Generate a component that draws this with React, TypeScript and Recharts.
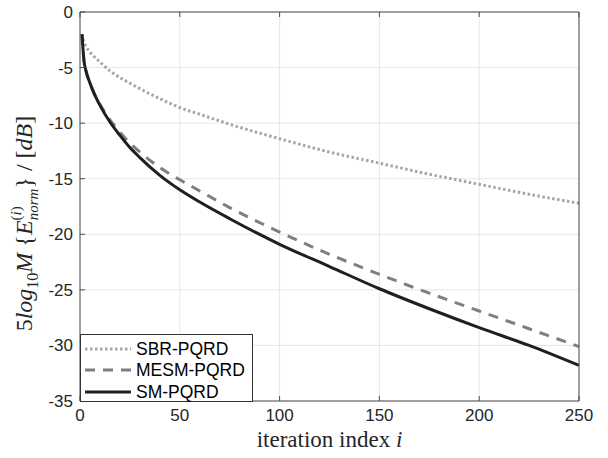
import React from 'react'
import {
    LineChart,
    Line,
    XAxis,
    YAxis,
    CartesianGrid,
    Legend
} from 'recharts'

// values
const iterations = [1, 2, 3, 5, 7, 10, 15, 20, 25, 30, 40, 50, 60, 75, 100, 125, 150, 175, 200, 225, 250]
const sbrPqrd = [-2.0, -2.7, -3.1, -3.6, -4.0, -4.5, -5.3, -5.9, -6.4, -6.9, -7.8, -8.6, -9.2, -10.1, -11.4, -12.6, -13.6, -14.6, -15.5, -16.4, -17.2]
const mesmPqrd = [-2.0, -4.4, -5.3, -6.4, -7.3, -8.3, -9.7, -10.8, -11.8, -12.6, -14.0, -15.1, -16.1, -17.6, -19.8, -21.8, -23.6, -25.3, -26.9, -28.5, -30.1]
const smPqrd = [-2.0, -4.4, -5.3, -6.4, -7.3, -8.4, -9.9, -11.1, -12.2, -13.1, -14.7, -16.0, -17.1, -18.6, -20.9, -22.9, -24.9, -26.7, -28.4, -30.0, -31.8]

const xTicks = [0, 50, 100, 150, 200, 250]
const yTicks = [0, -5, -10, -15, -20, -25, -30, -35]

const legendItems = [
    { name: 'SBR-PQRD', color: '#a6a6a6', dash: '2.5 2.5' },
    { name: 'MESM-PQRD', color: '#7f7f7f', dash: '10 8' },
    { name: 'SM-PQRD', color: '#1f1f1f', dash: undefined }
]

const data = iterations.map((it, i) => ({
    it,
    sbr: sbrPqrd[i],
    mesm: mesmPqrd[i],
    sm: smPqrd[i]
}))

const AXIS = '#4d4d4d'
const TXT = '#262626'
const SANS = '"Liberation Sans", Arial, sans-serif'
const SERIF = '"Liberation Serif", "Times New Roman", serif'

const BottomTick = ({ x, y, payload }: any) => (
    <g>
        <line x1={x} y1={y} x2={x} y2={y - 5} stroke={AXIS} />
        <text x={x} y={y + 20} textAnchor="middle" fill={TXT} fontSize={17} fontFamily={SANS}>{payload.value}</text>
    </g>
)

const LeftTick = ({ x, y, payload }: any) => (
    <g>
        <line x1={x} y1={y} x2={x + 5} y2={y} stroke={AXIS} />
        <text x={x - 7} y={y + 6} textAnchor="end" fill={TXT} fontSize={17} fontFamily={SANS}>{payload.value}</text>
    </g>
)

const TopTick = ({ x, y }: any) => <line x1={x} y1={y} x2={x} y2={y + 5} stroke={AXIS} />
const RightTick = ({ x, y }: any) => <line x1={x} y1={y} x2={x - 5} y2={y} stroke={AXIS} />

const YLabel = ({ viewBox }: any) => {
    const cx = viewBox.x + 32
    const cy = viewBox.y + viewBox.height / 2 + 17
    return (
        <text transform={`translate(${cx},${cy}) rotate(-90)`} textAnchor="middle" fill={TXT} fontSize={24} fontFamily={SERIF}>
            <tspan>5</tspan>
            <tspan fontStyle="italic">log</tspan>
            <tspan fontSize={16} dy={6}>10</tspan>
            <tspan fontStyle="italic" dy={-6}>M </tspan>
            <tspan>{'{'}</tspan>
            <tspan fontStyle="italic">E</tspan>
            <tspan fontSize={15} dy={-11}>(</tspan>
            <tspan fontSize={15} fontStyle="italic">i</tspan>
            <tspan fontSize={15}>)</tspan>
            <tspan fontSize={15} fontStyle="italic" dx={-14} dy={17}>norm</tspan>
            <tspan dy={-6}>{'}'} / [</tspan>
            <tspan fontStyle="italic">dB</tspan>
            <tspan>]</tspan>
        </text>
    )
}

const XLabel = ({ viewBox }: any) => {
    const cx = viewBox.x + viewBox.width / 2
    return (
        <text x={cx} y={viewBox.y + 46} textAnchor="middle" fill={TXT} fontSize={23} fontFamily={SERIF}>
            iteration index <tspan fontStyle="italic">i</tspan>
        </text>
    )
}

const LegendBox = () => (
    <div style={{
        background: '#fff',
        border: '1px solid #333',
        width: 173,
        height: 68,
        boxSizing: 'border-box',
        padding: '3px 0 0 3px',
        fontFamily: SANS,
        fontSize: 17.5,
        color: '#000',
        whiteSpace: 'nowrap'
    }}>
        {legendItems.map((item) => (
            <div key={item.name} style={{ display: 'flex', alignItems: 'center', height: 21.5 }}>
                <svg width={48} height={8} style={{ marginRight: 4, flex: 'none' }}>
                    <line x1={1} y1={4} x2={47} y2={4} stroke={item.color} strokeWidth={3} strokeDasharray={item.dash} />
                </svg>
                <span style={{ lineHeight: '20px' }}>{item.name}</span>
            </div>
        ))}
    </div>
)

export default function App() {
    return (
        <div style={{ position: 'absolute', left: 0, top: 0, width: 608, height: 458, background: '#fff' }}>
            <LineChart width={608} height={458} data={data} margin={{ top: 0, right: 0, bottom: 0, left: 0 }}>
                <CartesianGrid stroke="#e6e6e6" />
                <XAxis
                    dataKey="it"
                    type="number"
                    domain={[0, 250]}
                    ticks={xTicks}
                    height={57}
                    tickSize={0}
                    tickMargin={0}
                    axisLine={{ stroke: AXIS }}
                    tickLine={false}
                    tick={<BottomTick />}
                    label={<XLabel />}
                />
                <XAxis
                    xAxisId="top"
                    orientation="top"
                    dataKey="it"
                    type="number"
                    domain={[0, 250]}
                    ticks={xTicks}
                    height={12}
                    tickSize={0}
                    tickMargin={0}
                    axisLine={{ stroke: AXIS }}
                    tickLine={false}
                    tick={<TopTick />}
                />
                <YAxis
                    type="number"
                    domain={[-35, 0]}
                    ticks={yTicks}
                    width={80}
                    tickSize={0}
                    tickMargin={0}
                    axisLine={{ stroke: AXIS }}
                    tickLine={false}
                    tick={<LeftTick />}
                    label={<YLabel />}
                />
                <YAxis
                    yAxisId="right"
                    orientation="right"
                    type="number"
                    domain={[-35, 0]}
                    ticks={yTicks}
                    width={29}
                    tickSize={0}
                    tickMargin={0}
                    axisLine={{ stroke: AXIS }}
                    tickLine={false}
                    tick={<RightTick />}
                />
                <Line type="monotone" dataKey="sbr" name="SBR-PQRD" stroke="#a6a6a6" strokeWidth={3} strokeDasharray="2.5 2.5" dot={false} isAnimationActive={false} />
                <Line type="monotone" dataKey="mesm" name="MESM-PQRD" stroke="#7f7f7f" strokeWidth={3} strokeDasharray="10 8" dot={false} isAnimationActive={false} />
                <Line type="monotone" dataKey="sm" name="SM-PQRD" stroke="#1f1f1f" strokeWidth={3} dot={false} isAnimationActive={false} />
                <Legend
                    layout="horizontal"
                    verticalAlign="middle"
                    align="center"
                    content={<LegendBox />}
                    wrapperStyle={{ left: 80, top: 334, width: 173 }}
                />
            </LineChart>
        </div>
    )
}
